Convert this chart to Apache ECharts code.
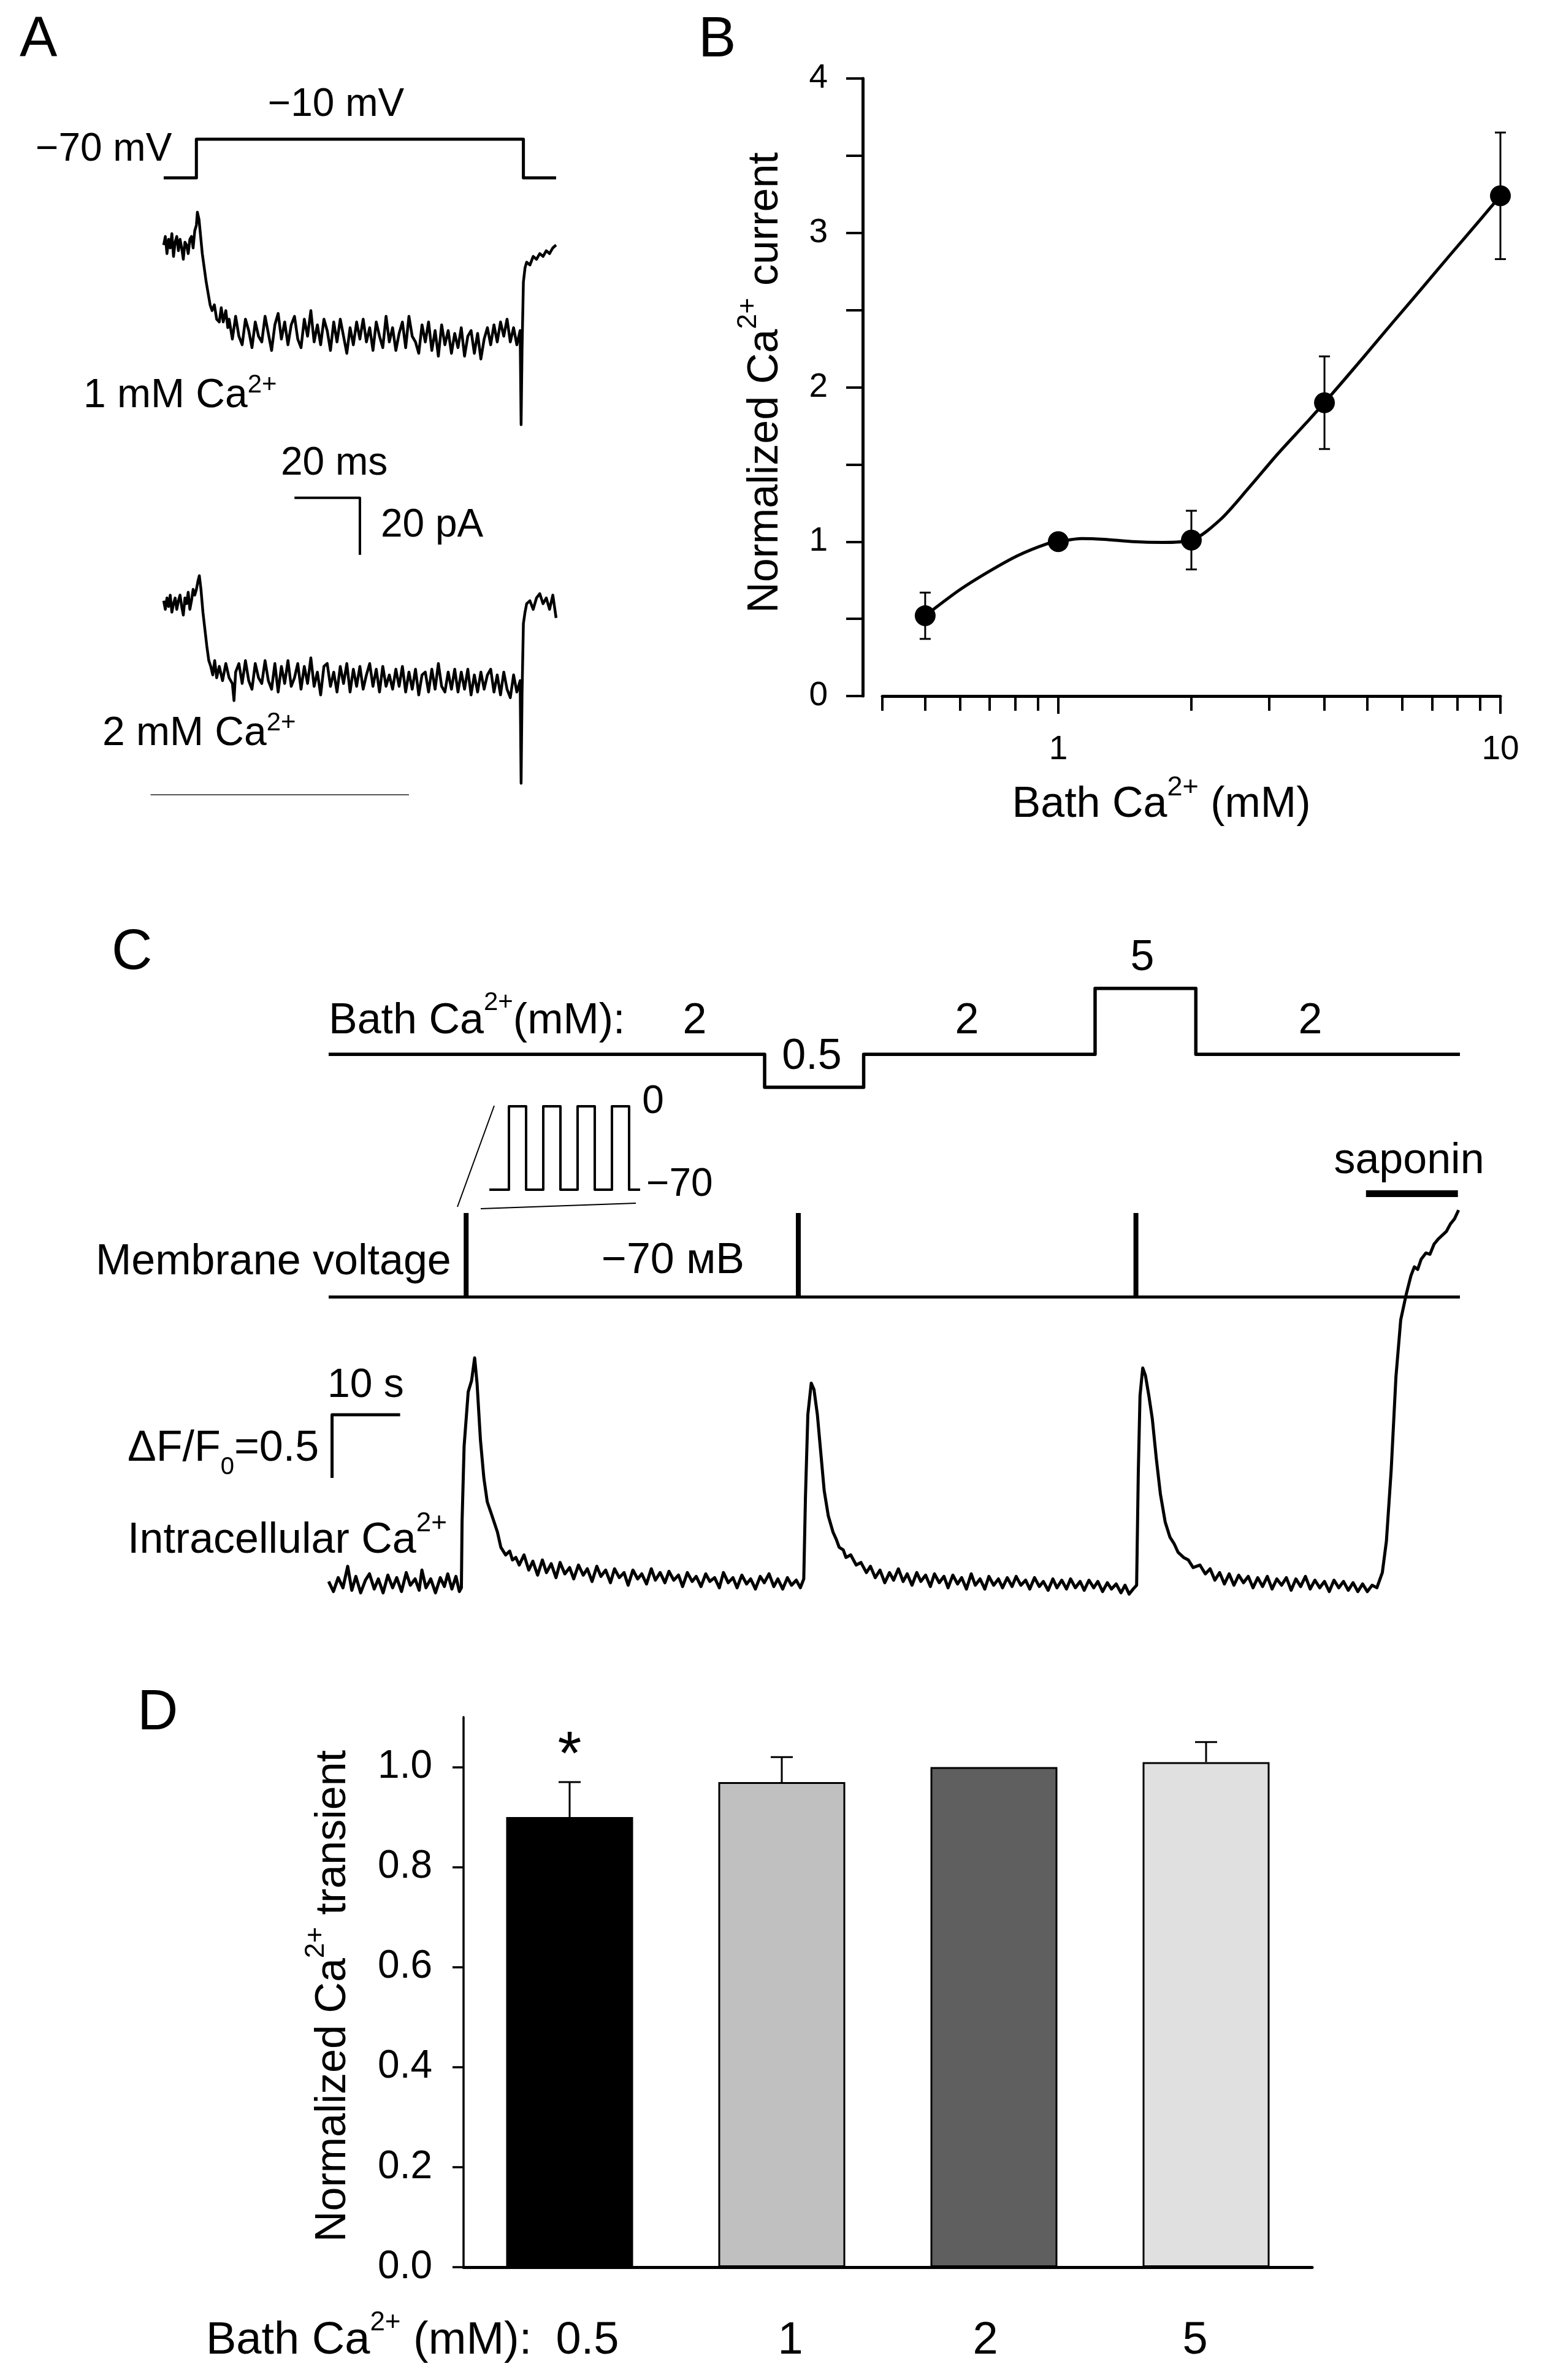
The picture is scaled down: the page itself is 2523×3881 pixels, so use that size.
<!DOCTYPE html>
<html><head><meta charset="utf-8">
<script src="https://cdn.jsdelivr.net/npm/echarts@6/dist/echarts.min.js"></script>
<style>html,body{margin:0;padding:0;background:#fff}#c{width:2523px;height:3881px}</style>
</head><body><div id="c"></div>
<script>
const FF = '"Liberation Sans", Arial, Helvetica, sans-serif';

// ---------------- Panel A (time in ms, current in pA, voltage in mV)
const aStepTimes = [-10, 0, 100, 110];
const aStepLevels = [-70, -10, -70];
const aTrace1 = [
[-10,1],[-9.5,4],[-9,-2],[-8.5,3],[-8,0],[-7.5,5],[-7,-3],[-6.5,2],[-6,4],[-5.5,-1],[-5,3],[-4.5,0],[-4,-4],[-3.5,2],[-3,1],[-2.5,-2],[-2,3],[-1.5,4],[-1,0],[-0.5,6],
[0,8],[0.3,12.5],[0.8,10],[1.3,4],[1.8,-2],[2.4,-7],[3,-12],[3.6,-16],[4.2,-20],[4.8,-22],[5.5,-20],[6.2,-25],[7,-26],[7.6,-21],[8.2,-26],[9,-22],[9.6,-28],
[10,-25],[11,-32],[12,-24],[13,-31],[14,-34],[15,-25],[16,-29],[17,-35],[18,-26],[19,-31],
[20,-33],[21,-24],[22,-30],[23,-36],[24,-27],[25,-23],[26,-32],[27,-26],[28,-34],[29,-27],
[30,-24],[31,-32],[32,-35],[33,-25],[34,-31],[35,-22],[36,-33],[37,-27],[38,-34],[39,-25],
[40,-29],[41,-36],[42,-26],[43,-33],[44,-25],[45,-31],[46,-37],[47,-28],[48,-34],[49,-26],
[50,-32],[51,-25],[52,-33],[53,-28],[54,-36],[55,-26],[56,-31],[57,-35],[58,-24],[59,-33],
[60,-28],[61,-36],[62,-30],[63,-26],[64,-35],[65,-24],[66,-31],[67,-33],[68,-37],[69,-27],
[70,-33],[71,-26],[72,-36],[73,-29],[74,-38],[75,-27],[76,-34],[77,-29],[78,-37],[79,-30],
[80,-35],[81,-28],[82,-38],[83,-31],[84,-29],[85,-37],[86,-30],[87,-39],[88,-32],[89,-28],
[90,-34],[91,-27],[92,-33],[93,-26],[94,-31],[95,-25],[96,-33],[97,-28],[98,-34],[99,-29],
[99.3,-62],[99.6,-35],[100,-12],[100.5,-7],[101,-5],[102,-6],[103,-3],[104,-4],[105,-2],[106,-3],[107,-1],[108,-2],[109,0],[110,1]];
const aTrace2 = [
[-10,2],[-9.5,-1],[-9,3],[-8.5,0],[-8,4],[-7.5,-2],[-7,1],[-6.5,3],[-6,-1],[-5.5,2],[-5,4],[-4.5,0],[-4,-3],[-3.5,3],[-3,1],[-2.5,5],[-2,-1],[-1.5,2],[-1,6],[-0.5,4],
[0,6],[0.5,9],[0.9,10.8],[1.4,6],[2,-2],[2.6,-8],[3.2,-14],[3.8,-19],[4.4,-21],[5,-24],[5.6,-19],[6.2,-25],[7,-21],[8,-26],[9,-20],[10,-25],[11,-27],[11.5,-33],[12,-23],
[13,-20],[14,-27],[15,-19],[16,-26],[17,-29],[18,-20],[19,-25],
[20,-27],[21,-19],[22,-26],[23,-29],[24,-20],[25,-30],[26,-21],[27,-27],[28,-19],[29,-28],
[30,-25],[31,-20],[32,-29],[33,-21],[34,-27],[35,-18],[36,-28],[37,-23],[38,-31],[39,-21],
[40,-20],[41,-28],[42,-23],[43,-30],[44,-21],[45,-27],[46,-20],[47,-30],[48,-22],[49,-28],
[50,-21],[51,-29],[52,-24],[53,-20],[54,-28],[55,-22],[56,-30],[57,-21],[58,-28],[59,-24],
[60,-29],[61,-22],[62,-28],[63,-21],[64,-30],[65,-23],[66,-29],[67,-22],[68,-31],[69,-24],
[70,-23],[71,-30],[72,-22],[73,-29],[74,-20],[75,-28],[76,-30],[77,-23],[78,-29],[79,-22],
[80,-30],[81,-23],[82,-29],[83,-22],[84,-31],[85,-24],[86,-30],[87,-23],[88,-29],[89,-24],
[90,-22],[91,-30],[92,-24],[93,-31],[94,-23],[95,-29],[96,-32],[97,-24],[98,-30],
[99,-26],[99.3,-62],[99.6,-30],[100,-6],[100.5,-2],[101,1],[102,2],[103,-1],[104,3],[105,4.5],[106,1],[107,3],[108,-1],[109,4],[110,-4]];
const aScaleBar = [[30,-87.7],[50,-87.7],[50,-107.7]];   // 20 ms / 20 pA
const aBottomRule = [[-14,-66],[65,-66]];

// ---------------- Panel B
const bConc = [0.5, 1, 2, 4, 10];
const bMean = [0.52, 1.00, 1.01, 1.90, 3.24];
const bSEM  = [0.15, 0, 0.19, 0.30, 0.41];
// fitted curve
const bCurve = [[0.5,0.52],[0.6,0.69],[0.7,0.81],[0.81,0.91],[0.94,0.985],[1,1.0],[1.13,1.02],[1.27,1.015],[1.48,1.0],[1.72,0.995],[2,1.01],
  [2.32,1.14],[2.7,1.35],[3.14,1.57],[3.64,1.77],[4,1.9],[4.92,2.2],[5.71,2.42],[6.64,2.64],[7.71,2.86],[8.97,3.08],[10,3.24]];
const bXTicks = [0.4,0.5,0.6,0.7,0.8,0.9,1,2,3,4,5,6,7,8,9,10];
const bXMajor = [1, 10];

// ---------------- Panel C (time in s)
const cBathTimes  = [0, 64.05, 78.6, 112.6, 127.4, 166.2];
const cBathLevels = [2, 0.5, 2, 5, 2];
const cStimTimes = [20.2, 69.0, 118.6];
const cInsetTimes  = [-114, 0, 100, 200, 300, 400, 500, 600, 700, 764];
const cInsetLevels = [-70, 0, -70, 0, -70, 0, -70, 0, -70];
const cSaponin = [152.4, 165.9];
const cCa = [
[0,0.03],[0.7,-0.05],[1.4,0.06],[2.1,-0.02],[2.8,0.15],[3.4,-0.04],[4,0.07],[4.7,-0.06],[5.4,0.04],[6,0.09],[6.7,-0.03],[7.3,0.05],[8,-0.06],[8.7,0.08],[9.4,-0.02],[10,0.06],[10.7,-0.05],[11.4,0.1],[12,0.0],[12.7,0.05],[13.3,-0.04],[13.7,0.12],[14.3,-0.02],[15,0.05],[15.7,-0.06],[16.4,0.06],[17,-0.01],[17.5,0.09],[18.1,-0.03],[18.7,0.07],[19.2,-0.05],
[19.5,-0.02],[19.6,0.5],[19.9,1.1],[20.5,1.53],[21.0,1.62],[21.45,1.80],[21.8,1.6],[22.3,1.15],[22.8,0.85],[23.3,0.66],[24.0,0.55],[24.8,0.42],[25.3,0.3],[26,0.24],[26.6,0.27],[27,0.2],[27.5,0.22],
[28,0.16],[28.7,0.24],[29.4,0.12],[30,0.19],[30.7,0.08],[31.4,0.2],[32,0.1],[32.7,0.17],[33.4,0.06],[34,0.18],[34.7,0.09],[35.4,0.14],[36,0.05],[36.7,0.16],[37.4,0.08],[38,0.13],[38.7,0.03],[39.4,0.15],[40,0.07],[40.7,0.12],[41.4,0.02],[42,0.13],[42.7,0.06],[43.4,0.1],[44,0.0],[44.7,0.12],[45.4,0.05],[46,0.09],[46.7,0.01],[47.4,0.13],[48,0.04],[48.7,0.1],[49.4,0.02],[50,0.11],[50.7,0.04],[51.4,0.08],[52,-0.01],[52.7,0.1],[53.4,0.03],[54,0.07],[54.7,-0.01],[55.4,0.09],[56,0.03],[56.7,0.06],[57.4,-0.02],[58,0.1],[58.7,0.02],[59.4,0.06],[60,-0.02],[60.7,0.08],[61.4,0.01],[62,0.05],[62.7,-0.03],[63.4,0.07],[64,0.02],[64.7,0.09],[65.4,-0.01],[66,0.05],[66.7,-0.03],[67.4,0.06],[68,0.0],[68.7,0.04],[69.3,-0.02],
[69.8,0.05],[70.05,0.7],[70.4,1.35],[70.9,1.60],[71.3,1.55],[71.8,1.35],[72.3,1.05],[72.8,0.75],[73.4,0.55],[74.1,0.42],[74.6,0.36],[75,0.3],[75.6,0.28],[76,0.22],[76.7,0.24],[77.5,0.16],[78.2,0.18],[79,0.1],
[79.6,0.15],[80.3,0.06],[81,0.12],[81.7,0.02],[82.4,0.1],[83,0.04],[83.7,0.13],[84.4,0.03],[85,0.09],[85.7,0.0],[86.4,0.1],[87,0.03],[87.7,0.08],[88.4,-0.01],[89,0.09],[89.7,0.02],[90.4,0.07],[91,-0.02],[91.7,0.08],[92.4,0.01],[93,0.06],[93.7,-0.03],[94.4,0.09],[95,0.0],[95.7,0.05],[96.4,-0.03],[97,0.07],[97.7,0.0],[98.4,0.05],[99,-0.02],[99.7,0.06],[100.4,-0.01],[101,0.07],[101.7,0.0],[102.4,0.04],[103,-0.03],[103.7,0.06],[104.4,-0.01],[105,0.03],[105.7,-0.04],[106.4,0.05],[107,-0.02],[107.7,0.04],[108.4,-0.03],[109,0.05],[109.7,-0.02],[110.4,0.03],[111,-0.04],[111.7,0.04],[112.4,-0.02],[113,0.03],[113.7,-0.05],[114.4,0.02],[115,-0.03],[115.7,0.01],[116.4,-0.06],[117,0.0],[117.6,-0.07],[118.2,-0.03],
[118.7,0.0],[118.95,0.9],[119.2,1.5],[119.6,1.72],[120.0,1.66],[120.5,1.5],[121.0,1.32],[121.6,1.0],[122.2,0.72],[122.9,0.5],[123.6,0.38],[124.2,0.33],[124.8,0.26],[125.6,0.22],[126.3,0.2],[127,0.14],[128,0.16],[128.8,0.09],
[129.5,0.13],[130.2,0.04],[130.9,0.1],[131.6,0.01],[132.3,0.09],[133,0.0],[133.7,0.08],[134.4,0.02],[135.1,0.07],[135.8,-0.02],[136.5,0.06],[137.2,-0.01],[137.9,0.07],[138.6,-0.03],[139.3,0.05],[140,0.0],[140.7,0.06],[141.4,-0.04],[142.1,0.05],[142.8,-0.01],[143.5,0.07],[144.2,-0.03],[144.9,0.04],[145.6,-0.02],[146.3,0.03],[147,-0.05],[147.7,0.04],[148.4,-0.02],[149.1,0.03],[149.8,-0.04],[150.5,0.02],[151.2,-0.05],[151.9,0.01],[152.6,-0.05],[153.3,0.0],[154,-0.02],
[154.8,0.1],[155.4,0.35],[156.1,0.91],[156.8,1.65],[157.5,2.1],[158.3,2.3],[159,2.45],[159.5,2.52],[160,2.5],[160.5,2.58],[161.2,2.63],[161.8,2.62],[162.4,2.7],[163,2.74],[163.6,2.77],[164.2,2.8],[164.8,2.86],[165.4,2.9],[166,2.97]];
const cScaleBar = [[10.5,1.35],[0.5,1.35],[0.5,0.85]];  // 10 s / dF/F0 = 0.5

// ---------------- Panel D
const dCats = ['0.5', '1', '2', '5'];
const dMean = [0.90, 0.97, 1.00, 1.01];
const dSEM  = [0.07, 0.05, 0, 0.04];
const dColors = ['#000000', '#c0c0c0', '#5f5f5f', '#e0e0e0'];
const dSig = ['*', '', '', ''];
const dYTicks = [0, 0.2, 0.4, 0.6, 0.8, 1.0];

// ---------------- helpers
function stepPath(times, levels) {
  const pts = [];
  levels.forEach((v, i) => { pts.push([times[i], v]); pts.push([times[i + 1], v]); });
  return pts;
}
const mctx = document.createElement('canvas').getContext('2d');
function tw(t, s) { mctx.font = s + 'px ' + FF; return mctx.measureText(t).width; }
function label(parts, x, y, anchor, rotation) {
  anchor = anchor || 'left';
  const widths = parts.map(p => tw(p.t, p.s));
  const total = widths.reduce((a, b) => a + b, 0);
  let cx = anchor === 'left' ? 0 : anchor === 'center' ? -total / 2 : -total;
  const children = parts.map((p, i) => {
    const el = { type: 'text', x: cx, y: -(p.rise || 0) - 0.3465 * p.s,
      style: { text: p.t, font: p.s + 'px ' + FF, fill: '#000', align: 'left', verticalAlign: 'middle',
               textAlign: 'left', textVerticalAlign: 'middle' } };
    cx += widths[i];
    return el;
  });
  return { type: 'group', x: x, y: y, rotation: rotation || 0, children: children, silent: true };
}
function hid(gi, min, max) { return { type: 'value', gridIndex: gi, min: min, max: max, show: false }; }
function line(xi, data, width, color, extra) {
  return Object.assign({ type: 'line', xAxisIndex: xi, yAxisIndex: xi, data: data, symbol: 'none', showSymbol: false,
    clip: false, silent: true, lineStyle: { color: color || '#000', width: width, join: 'round' }, itemStyle: { color: color || '#000' } }, extra || {});
}

const grids = [
  { left: 240.3, top: 216.5, width: 677.3, height: 84 },     // 0 A voltage
  { left: 240.3, top: 288, width: 677.3, height: 674 },      // 1 A trace 1
  { left: 240.3, top: 896, width: 677.3, height: 418.5 },    // 2 A trace 2
  { left: 1439, top: 128, width: 1008, height: 1007 },       // 3 B
  { left: 536, top: 1576, width: 1845, height: 215 },        // 4 C bath
  { left: 796.4, top: 1784.6, width: 291.2, height: 174.9 }, // 5 C inset
  { left: 536, top: 1958.4, width: 1845, height: 176.1 },    // 6 C membrane
  { left: 536, top: 1925.8, width: 1845, height: 679.8 },    // 7 C intracellular
  { left: 756, top: 2800, width: 1384, height: 897 }         // 8 D
].map(g => Object.assign({ containLabel: false, outerBoundsMode: 'none', show: false }, g));

const lx = Math.log10;
const bMin = lx(0.4), bMax = 1;
const xAxes = [
  hid(0, -15, 112), hid(1, -15, 112), hid(2, -15, 112),
  { type: 'value', gridIndex: 3, min: bMin, max: bMax, position: 'bottom',
    axisLine: { show: true, onZero: false, lineStyle: { color: '#000', width: 5 } },
    axisTick: { show: true, length: 24, lineStyle: { color: '#000', width: 4 }, customValues: bXTicks.map(lx) },
    axisLabel: { show: false }, splitLine: { show: false } },
  hid(4, 0, 166.2), hid(5, -120, 920), hid(6, 0, 166.2), hid(7, 0, 166.2),
  { type: 'category', gridIndex: 8, data: dCats, boundaryGap: true,
    axisLine: { show: true, onZero: false, lineStyle: { color: '#000', width: 5 } },
    axisTick: { show: false }, axisLabel: { show: false }, splitLine: { show: false } },
  { type: 'value', gridIndex: 3, min: bMin, max: bMax, position: 'bottom',
    axisLine: { show: false, onZero: false },
    axisTick: { show: true, length: 29, lineStyle: { color: '#000', width: 4 }, customValues: bXMajor.map(lx) },
    axisLabel: { show: true, customValues: bXMajor.map(lx), margin: 60, fontSize: 55, fontFamily: FF, color: '#000',
      formatter: v => String(Math.round(Math.pow(10, v))) },
    splitLine: { show: false } }
];
const yAxes = [
  hid(0, -80, 0), hid(1, -120, 25), hid(2, -70, 20),
  { type: 'value', gridIndex: 3, min: 0, max: 4, interval: 0.5, offset: 32,
    axisLine: { show: true, onZero: false, lineStyle: { color: '#000', width: 5 } },
    axisTick: { show: true, length: 27, lineStyle: { color: '#000', width: 4 } },
    axisLabel: { margin: 57, fontSize: 55, fontFamily: FF, color: '#000', formatter: v => (Math.abs(v - Math.round(v)) < 1e-9 ? String(Math.round(v)) : '') },
    splitLine: { show: false } },
  hid(4, 0, 6), hid(5, -80, 10), hid(6, -80, 10), hid(7, -0.1, 3.2),
  { type: 'value', gridIndex: 8, min: 0, max: 1.1,
    axisLine: { show: true, onZero: false, lineStyle: { color: '#000', width: 3.5 } },
    axisTick: { show: true, length: 18, lineStyle: { color: '#000', width: 3.5 }, customValues: dYTicks },
    axisLabel: { customValues: dYTicks, margin: 51, fontSize: 64, fontFamily: FF, color: '#000', formatter: v => v.toFixed(1) },
    splitLine: { show: false } }
];

const series = [
  line(0, stepPath(aStepTimes, aStepLevels), 5),
  line(1, aTrace1, 4.5),
  line(1, aScaleBar, 4),
  line(2, aTrace2, 4.5),
  line(2, aBottomRule, 2, '#555'),
  // B curve + markers + error bars
  Object.assign(line(3, bCurve.map(p => [lx(p[0]), p[1]]), 5), { smooth: 0.3 }),
  { type: 'scatter', xAxisIndex: 3, yAxisIndex: 3, silent: true, z: 5, symbol: 'circle', symbolSize: 34,
    itemStyle: { color: '#000', opacity: 1 }, data: bConc.map((c, i) => [lx(c), bMean[i]]) },
  { type: 'custom', xAxisIndex: 3, yAxisIndex: 3, silent: true, z: 4,
    data: bConc.map((c, i) => [lx(c), bMean[i] - bSEM[i], bMean[i] + bSEM[i]]).filter((d, i) => bSEM[i] > 0),
    encode: { x: 0, y: [1, 2] },
    renderItem: (params, api) => {
      const lo = api.coord([api.value(0), api.value(1)]), hi = api.coord([api.value(0), api.value(2)]);
      const hw = 9, st = { stroke: '#000', lineWidth: 3 };
      return { type: 'group', children: [
        { type: 'line', shape: { x1: lo[0], y1: lo[1], x2: hi[0], y2: hi[1] }, style: st },
        { type: 'line', shape: { x1: lo[0] - hw, y1: lo[1], x2: lo[0] + hw, y2: lo[1] }, style: st },
        { type: 'line', shape: { x1: hi[0] - hw, y1: hi[1], x2: hi[0] + hw, y2: hi[1] }, style: st } ] };
    } },
  // C
  line(4, stepPath(cBathTimes, cBathLevels), 5.5),
  line(5, stepPath(cInsetTimes, cInsetLevels), 4),
  line(6, [[0, -70], [166.2, -70]], 5),
  { type: 'custom', xAxisIndex: 6, yAxisIndex: 6, silent: true,
    data: cStimTimes.map(t => [t, -70, 0]), encode: { x: 0, y: [1, 2] },
    renderItem: (params, api) => {
      const a = api.coord([api.value(0), api.value(1)]), b = api.coord([api.value(0), api.value(2)]);
      return { type: 'line', shape: { x1: a[0], y1: a[1], x2: b[0], y2: b[1] }, style: { stroke: '#000', lineWidth: 8 } };
    } },
  line(7, cSaponin.map(t => [t, 3.10]), 11),
  line(7, cCa, 5),
  line(7, cScaleBar, 5),
  // D
  { type: 'bar', xAxisIndex: 8, yAxisIndex: 8, barWidth: 207, silent: true,
    data: dMean.map((v, i) => ({ value: v, itemStyle: { color: dColors[i], borderColor: '#000', borderWidth: 3 } })) },
  { type: 'custom', xAxisIndex: 8, yAxisIndex: 8, silent: true, z: 3,
    data: dMean.map((m, i) => [i, m, m + dSEM[i]]).filter((d, i) => dSEM[i] > 0), encode: { x: 0, y: [1, 2] },
    renderItem: (params, api) => {
      const a = api.coord([api.value(0), api.value(1)]), b = api.coord([api.value(0), api.value(2)]);
      const st = { stroke: '#000', lineWidth: 3 };
      return { type: 'group', children: [
        { type: 'line', shape: { x1: a[0], y1: a[1], x2: b[0], y2: b[1] }, style: st },
        { type: 'line', shape: { x1: b[0] - 18, y1: b[1], x2: b[0] + 18, y2: b[1] }, style: st } ] };
    } }
];

const sup = (s, r) => ({ t: '2+', s: s, rise: r });
const graphic = [
  // panel letters
  label([{ t: 'A', s: 92 }], 32, 99),
  label([{ t: 'B', s: 92 }], 1139, 99),
  label([{ t: 'C', s: 92 }], 182, 1587),
  label([{ t: 'D', s: 92 }], 224, 2827),
  // A
  label([{ t: '\u221210 mV', s: 64 }], 548, 194, 'center'),
  label([{ t: '\u221270 mV', s: 64 }], 58, 267),
  label([{ t: '1 mM Ca', s: 66 }, sup(42, 26)], 136, 669),
  label([{ t: '20 ms', s: 64 }], 458, 779),
  label([{ t: '20 pA', s: 64 }], 621, 880),
  label([{ t: '2 mM Ca', s: 66 }, sup(42, 26)], 167, 1220),
  // B
  label([{ t: 'Bath Ca', s: 70 }, sup(45, 37), { t: ' (mM)', s: 70 }], 1894, 1337, 'center'),
  label([{ t: 'Normalized Ca', s: 70 }, sup(45, 37), { t: ' current', s: 70 }], 1273, 624, 'center', Math.PI / 2),
  // C
  label([{ t: 'Bath Ca', s: 70 }, sup(42, 40), { t: '(mM):', s: 70 }], 536, 1690),
  label([{ t: '2', s: 70 }], 1133, 1690, 'center'),
  label([{ t: '0.5', s: 70 }], 1324, 1748, 'center'),
  label([{ t: '2', s: 70 }], 1577, 1690, 'center'),
  label([{ t: '5', s: 70 }], 1863, 1587, 'center'),
  label([{ t: '2', s: 70 }], 2137, 1690, 'center'),
  label([{ t: '0', s: 64 }], 1065, 1820, 'center'),
  label([{ t: '\u221270', s: 64 }], 1054, 1955),
  label([{ t: 'saponin', s: 70 }], 2298, 1918, 'center'),
  label([{ t: 'Membrane voltage', s: 70 }], 156, 2083),
  label([{ t: '\u221270 мВ', s: 70 }], 981, 2081),
  label([{ t: '10 s', s: 66 }], 534, 2283),
  label([{ t: '\u0394F/F', s: 70 }, { t: '0', s: 40, rise: -20 }, { t: '=0.5', s: 70 }], 208, 2387),
  label([{ t: 'Intracellular Ca', s: 70 }, sup(44, 37)], 208, 2537),
  { type: 'line', silent: true, shape: { x1: 746, y1: 1968, x2: 806, y2: 1803 }, style: { stroke: '#000', lineWidth: 2 } },
  { type: 'line', silent: true, shape: { x1: 784, y1: 1971, x2: 1037, y2: 1962 }, style: { stroke: '#000', lineWidth: 2 } },
  // D
  label([{ t: dSig[0], s: 100 }], 929, 2900, 'center'),
  label([{ t: 'Normalized Ca', s: 70 }, sup(45, 37), { t: ' transient', s: 70 }], 568, 3255, 'center', Math.PI / 2),
  label([{ t: 'Bath Ca', s: 74 }, sup(44, 40), { t: ' (mM):', s: 74 }], 336, 3843),
  label([{ t: dCats[0], s: 74 }], 958, 3843, 'center'),
  label([{ t: dCats[1], s: 74 }], 1289, 3843, 'center'),
  label([{ t: dCats[2], s: 74 }], 1607, 3843, 'center'),
  label([{ t: dCats[3], s: 74 }], 1949, 3843, 'center')
];

const chart = echarts.init(document.getElementById('c'), null, { renderer: 'canvas', width: 2523, height: 3881 });
chart.setOption({
  backgroundColor: '#ffffff',
  animation: false,
  textStyle: { fontFamily: FF },
  grid: grids, xAxis: xAxes, yAxis: yAxes, series: series, graphic: graphic
});
</script></body></html>
